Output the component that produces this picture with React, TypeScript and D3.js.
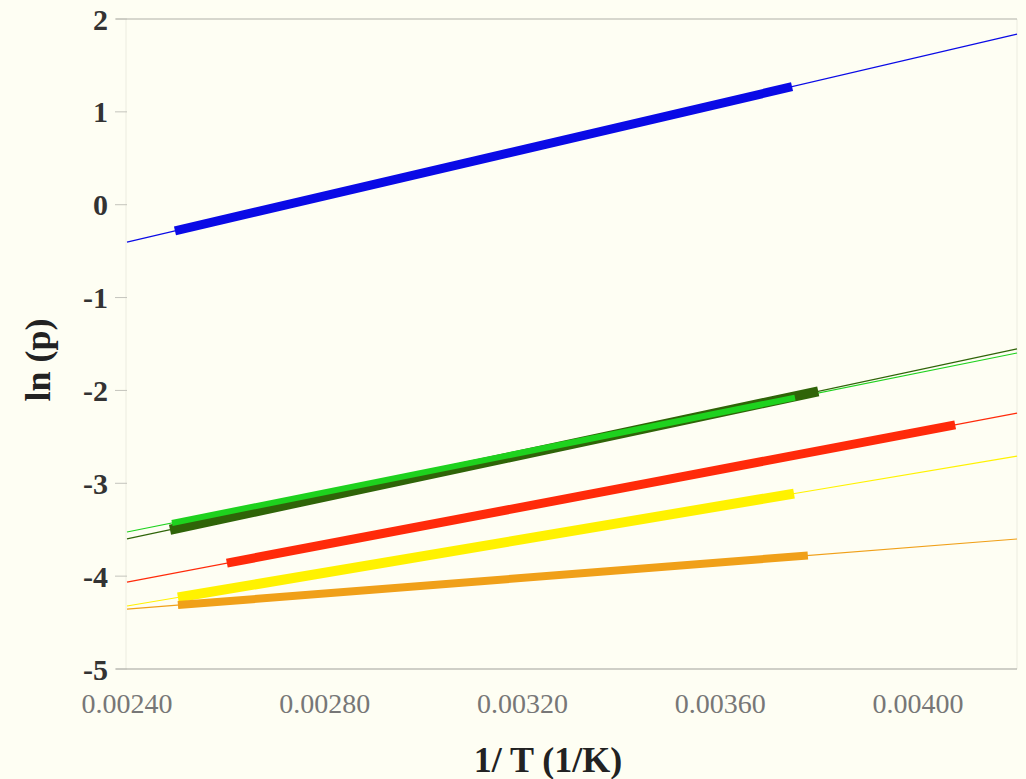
import React from "react";
import * as d3 from "d3";

// fit lines ln(p) = a + b * (1/T), plus the 1/T range covered by the data
const seriesNames = ["blue", "green", "darkgreen", "red", "yellow", "orange"];
const seriesColors = ["#0a0ae6", "#1ed21e", "#2f6408", "#ff2a0a", "#fff200", "#f0a019"];
const slopes = [1244, 1071, 1137, 1011, 897, 419];
const intercepts = [-3.388, -6.095, -6.328, -6.49, -6.474, -5.36];
const dataStart = [0.002497, 0.002491, 0.002487, 0.002602, 0.002503, 0.002503];
const dataEnd = [0.003745, 0.003751, 0.003798, 0.004075, 0.003749, 0.003777];
const thickWidths = [9, 6, 10, 9, 10, 8];

const xTicks = [0.0024, 0.0028, 0.0032, 0.0036, 0.004];
const yTicks = [2, 1, 0, -1, -2, -3, -4, -5];
const xDomain = [0.0024, 0.0042];
const yDomain = [-5, 2];

const W = 1026;
const H = 779;

export default function App() {
    const x = d3.scaleLinear().domain(xDomain).range([127, 1017]);
    const y = d3.scaleLinear().domain(yDomain).range([669, 19]);

    const line = d3.line<[number, number]>()
        .x((d) => x(d[0]))
        .y((d) => y(d[1]));

    const fit = (i: number, t: number): [number, number] => [t, intercepts[i] + slopes[i] * t];

    // draw order: thin fits first, then thick data segments
    const thickOrder = [4, 5, 3, 2, 1, 0];
    const thinOrder = [5, 4, 3, 1, 2, 0];

    return (
        <svg width={W} height={H} style={{ position: "absolute", left: 0, top: 0 }}
            fontFamily="'Liberation Serif', 'Times New Roman', serif">
            <rect width={W} height={H} fill="#fefef3" />

            {/* frame */}
            <line x1={126} x2={126} y1={19} y2={669} stroke="#ecece0" />
            <line x1={1017} x2={1017} y1={19} y2={669} stroke="#ecece0" />
            <line x1={116} x2={1017} y1={19} y2={19} stroke="#b0b0a8" />
            <line x1={116} x2={1017} y1={669} y2={669} stroke="#a0a09a" />

            {yTicks.map((t) => (
                <g key={t}>
                    <line x1={115} x2={127} y1={y(t)} y2={y(t)} stroke="#c4c4bc" />
                    <text x={108} y={y(t)} dy="0.35em" textAnchor="end" fontSize={30}
                        fontWeight="bold" fill="#333">{t < 0 ? "-" + Math.abs(t) : t}</text>
                </g>
            ))}

            {xTicks.map((t) => (
                <text key={t} x={x(t)} y={703} dy="0.35em" textAnchor="middle"
                    fontSize={28} fill="#777">{t.toFixed(5)}</text>
            ))}

            <text x={548} y={772} textAnchor="middle" fontSize={36} fontWeight="bold" fill="#222">1/ T (1/K)</text>
            <text transform="translate(50,360) rotate(-90)" textAnchor="middle" fontSize={36}
                fontWeight="bold" fill="#222">ln (p)</text>

            {thinOrder.map((i) => (
                <path key={"thin-" + seriesNames[i]} d={line([fit(i, xDomain[0]), fit(i, xDomain[1])]) || ""}
                    fill="none" stroke={seriesColors[i]} strokeWidth={1.2} />
            ))}

            {thickOrder.map((i) => (
                <path key={"thick-" + seriesNames[i]} d={line([fit(i, dataStart[i]), fit(i, dataEnd[i])]) || ""}
                    fill="none" stroke={seriesColors[i]} strokeWidth={thickWidths[i]} strokeLinecap="butt" />
            ))}
        </svg>
    );
}
